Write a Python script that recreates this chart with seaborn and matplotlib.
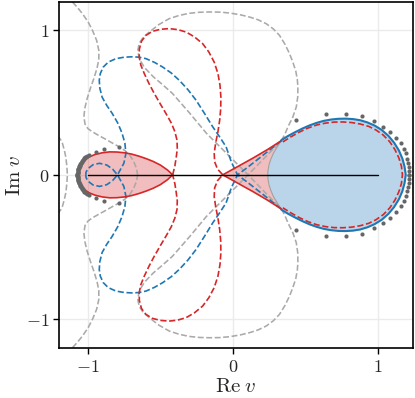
import matplotlib
matplotlib.use("Agg")
import matplotlib.pyplot as plt
import seaborn as sns

# All curves are symmetric about the real axis: only the upper halves (Im v >= 0) are listed.

# red solid teardrop on the left, from the cusp to the far left
red_left_x = [-0.415, -0.45, -0.50, -0.55, -0.60, -0.65, -0.70, -0.75, -0.80, -0.85, -0.90, -0.95,
              -0.99, -1.02, -1.045, -1.06, -1.068]
red_left_y = [0.0, 0.033, 0.068, 0.093, 0.113, 0.130, 0.144, 0.153, 0.158, 0.159, 0.153, 0.141,
              0.125, 0.105, 0.075, 0.040, 0.0]

# red solid edge from the right cusp to the junction with the blue lobe
red_right_x = [-0.069, 0.030, 0.138, 0.240, 0.335]
red_right_y = [0.0, 0.055, 0.115, 0.175, 0.236]

# thin grey edge between the pink and the blue region
inner_x = [0.335, 0.305, 0.280, 0.262, 0.250, 0.244, 0.242]
inner_y = [0.236, 0.190, 0.148, 0.105, 0.067, 0.032, 0.0]

# blue solid lobe on the right
blue_lobe_x = [0.335, 0.38, 0.43, 0.48, 0.53, 0.58, 0.63, 0.68, 0.73, 0.78, 0.83, 0.88, 0.93, 0.98,
               1.03, 1.075, 1.115, 1.148, 1.172, 1.187, 1.195]
blue_lobe_y = [0.240, 0.268, 0.295, 0.320, 0.342, 0.360, 0.374, 0.383, 0.388, 0.389, 0.386, 0.378,
               0.363, 0.341, 0.310, 0.270, 0.222, 0.168, 0.112, 0.056, 0.0]

# red dashed curve just inside the blue lobe
red_in_x = [0.346, 0.40, 0.46, 0.52, 0.58, 0.64, 0.70, 0.76, 0.82, 0.88, 0.94, 0.99, 1.04, 1.085,
            1.12, 1.147, 1.165, 1.172]
red_in_y = [0.228, 0.262, 0.296, 0.324, 0.345, 0.358, 0.365, 0.366, 0.362, 0.352, 0.335, 0.310,
            0.275, 0.228, 0.175, 0.118, 0.060, 0.0]

# red dashed figure-eight between the two cusps
red_dash_x = [-0.415, -0.400, -0.390, -0.383, -0.385, -0.400, -0.425, -0.461, -0.500, -0.542, -0.580,
              -0.611, -0.635, -0.646, -0.645, -0.630, -0.600, -0.555, -0.500, -0.440, -0.380, -0.322,
              -0.265, -0.208, -0.165, -0.128, -0.102, -0.088, -0.082, -0.083, -0.090, -0.102, -0.118,
              -0.128, -0.125, -0.105, -0.069]
red_dash_y = [0.0, 0.060, 0.124, 0.180, 0.240, 0.300, 0.360, 0.424, 0.490, 0.563, 0.635,
              0.701, 0.760, 0.815, 0.870, 0.925, 0.965, 0.993, 1.007, 1.012, 1.005, 0.988,
              0.955, 0.908, 0.850, 0.780, 0.700, 0.620, 0.540, 0.460, 0.380, 0.300, 0.220,
              0.150, 0.090, 0.040, 0.0]

# blue dashed branch: lower junction -> crossing -> top -> loop round -1
blue_dash_x = [0.335, 0.25, 0.17, 0.10, 0.033, -0.010, -0.046, -0.090, -0.138, -0.195, -0.253, -0.310,
               -0.369, -0.425, -0.484, -0.540, -0.599, -0.645, -0.694, -0.750, -0.807, -0.860, -0.895,
               -0.915, -0.922, -0.918, -0.902, -0.870, -0.833, -0.795, -0.765, -0.745, -0.738, -0.752,
               -0.796, -0.830, -0.870, -0.920, -0.965, -0.998, -1.013, -1.015]
blue_dash_y = [-0.236, -0.168, -0.105, -0.050, 0.0, 0.090, 0.194, 0.262, 0.332, 0.425, 0.516, 0.590,
               0.654, 0.705, 0.746, 0.778, 0.804, 0.814, 0.817, 0.814, 0.804, 0.780, 0.745,
               0.700, 0.654, 0.600, 0.537, 0.480, 0.426, 0.360, 0.290, 0.220, 0.148, 0.080,
               0.0, -0.040, -0.068, -0.080, -0.070, -0.045, -0.020, 0.0]

# grey dashed: outer arc over the top, then the diagonal down to the lower junction
grey_outer_x = [0.335, 0.360, 0.381, 0.415, 0.439, 0.449, 0.450, 0.446, 0.435, 0.415, 0.392, 0.360,
                0.323, 0.280, 0.231, 0.175, 0.116, 0.050, -0.023, -0.090, -0.161, -0.230, -0.300,
                -0.370, -0.438, -0.510, -0.576, -0.620, -0.646, -0.655, -0.650, -0.635, -0.611,
                -0.550, -0.480, -0.417, -0.300, -0.182, -0.044, 0.106, 0.220, 0.335]
grey_outer_y = [0.236, 0.280, 0.332, 0.400, 0.470, 0.540, 0.608, 0.660, 0.720, 0.780, 0.839, 0.905,
                0.965, 1.010, 1.046, 1.073, 1.092, 1.108, 1.120, 1.126, 1.127, 1.125, 1.118,
                1.103, 1.081, 1.040, 0.988, 0.950, 0.910, 0.865, 0.827, 0.785, 0.744,
                0.680, 0.620, 0.564, 0.430, 0.288, 0.150, 0.0, -0.118, -0.236]

# grey dashed on the left, from the top edge down to the real axis
grey_left_x = [-1.107, -1.070, -1.038, -1.000, -0.969, -0.940, -0.925, -0.925, -0.937, -0.958, -0.980,
               -1.005, -1.022, -1.028, -1.020, -1.000, -0.970, -0.930, -0.888, -0.835, -0.784, -0.745,
               -0.710, -0.683, -0.665, -0.657]
grey_left_y = [1.196, 1.155, 1.115, 1.060, 1.000, 0.930, 0.862, 0.800, 0.740, 0.670, 0.608,
               0.530, 0.460, 0.400, 0.350, 0.320, 0.298, 0.275, 0.252, 0.222, 0.194, 0.168,
               0.135, 0.090, 0.045, 0.0]

# small grey dashed arc at the left edge
grey_edge_x = [-1.21, -1.190, -1.176, -1.163, -1.153, -1.146, -1.142]
grey_edge_y = [0.270, 0.245, 0.217, 0.170, 0.124, 0.062, 0.0]

# grey dots near -1 (packed into a thick arc) and around the right lobe
dots_left_x = [-0.784, -0.888, -0.943, -0.992, -1.004, -1.015, -1.020, -1.025, -1.029, -1.033, -1.037,
               -1.040, -1.044, -1.047, -1.050, -1.052, -1.055, -1.057, -1.060, -1.062, -1.064, -1.066,
               -1.068, -1.069, -1.070, -1.071, -1.072, -1.072, -1.073, -1.073]
dots_left_y = [0.193, 0.178, 0.157, 0.140, 0.133, 0.126, 0.121, 0.116, 0.110, 0.105, 0.100,
               0.095, 0.090, 0.084, 0.079, 0.074, 0.069, 0.064, 0.058, 0.053, 0.048, 0.043,
               0.038, 0.032, 0.027, 0.022, 0.016, 0.011, 0.005, 0.0]
dots_right_x = [0.439, 0.642, 0.785, 0.893, 0.974, 1.038, 1.089, 1.131, 1.161, 1.181, 1.195,
                1.204, 1.211, 1.216, 1.218, 1.218]
dots_right_y = [0.383, 0.424, 0.424, 0.406, 0.371, 0.332, 0.297, 0.258, 0.217, 0.182, 0.148,
                0.113, 0.083, 0.055, 0.028, 0.0]

segment_x = [-1.0, 1.0]
segment_y = [0.0, 0.0]

ticks = [-1, 0, 1]
tick_labels = ["$-1$", "$0$", "$1$"]

RED = "#d62728"
BLUE = "#1f77b4"
GREY = "#aaaaaa"
DOT = "#666666"


def closed(xs, ys):
    # upper half followed by its mirror image, walked backwards
    return list(xs) + list(xs)[::-1], list(ys) + [-y for y in ys][::-1]


def mirror(xs, ys):
    return list(xs), [-y for y in ys]


sns.set_style("whitegrid", {"grid.color": "#ebebeb", "axes.edgecolor": "black"})
plt.rcParams["mathtext.fontset"] = "cm"
plt.rcParams["font.family"] = ["DejaVu Serif"]

fig = plt.figure(figsize=(4.15, 3.98), dpi=100)
ax = fig.add_axes([59 / 415, 50 / 398, 354 / 415, 346 / 398])

# filled regions
lx, ly = closed(red_left_x, red_left_y)
ax.fill(lx, ly, color=RED, alpha=0.3, lw=0, zorder=1)
px, py = closed(red_right_x + inner_x, red_right_y + inner_y)
ax.fill(px, py, color=RED, alpha=0.3, lw=0, zorder=1)
bx, by = closed(inner_x[::-1] + blue_lobe_x, inner_y[::-1] + blue_lobe_y)
ax.fill(bx, by, color="#bad5e9", lw=0, zorder=1.5)


def curve(x, y, color, ls="-", lw=1.2, z=3):
    sns.lineplot(x=x, y=y, sort=False, estimator=None, color=color,
                 linestyle=ls, lw=lw, zorder=z, ax=ax)


# grey dashed level curves
for gx, gy in [(grey_outer_x, grey_outer_y), (grey_left_x, grey_left_y), (grey_edge_x, grey_edge_y)]:
    curve(gx, gy, GREY, "--", 1.15, 2)
    curve(*mirror(gx, gy), GREY, "--", 1.15, 2)
curve(*closed(inner_x, inner_y), "#a0a0a0", "-", 0.8, 2)

# blue and red dashed
curve(blue_dash_x, blue_dash_y, BLUE, "--", 1.2, 3)
curve(*mirror(blue_dash_x, blue_dash_y), BLUE, "--", 1.2, 3)
curve(*closed(red_dash_x, red_dash_y), RED, "--", 1.2, 3)
curve(*closed(red_in_x, red_in_y), RED, "--", 1.2, 3)

# solid boundaries
curve(*closed(red_left_x, red_left_y), RED, "-", 1.2, 4)
curve(red_right_x, red_right_y, RED, "-", 1.2, 4)
curve(*mirror(red_right_x, red_right_y), RED, "-", 1.2, 4)
curve(*closed(blue_lobe_x, blue_lobe_y), BLUE, "-", 1.5, 4)

curve(segment_x, segment_y, "black", "-", 1.0, 5)

# dots
for dx, dy in [(dots_left_x, dots_left_y), (dots_right_x, dots_right_y)]:
    sx, sy = closed(dx, dy)
    sns.scatterplot(x=sx, y=sy, color=DOT, s=9, linewidth=0, zorder=6, ax=ax)

ax.set_xlim(-1.2, 1.245)
ax.set_ylim(-1.198, 1.196)
ax.set_xticks(ticks)
ax.set_xticklabels(tick_labels)
ax.set_yticks(ticks)
ax.set_yticklabels(tick_labels)
ax.tick_params(axis="both", which="major", length=4, width=1, color="black",
               labelsize=13, left=True, bottom=True, pad=3)
for sp in ax.spines.values():
    sp.set_linewidth(1.2)
    sp.set_color("black")
ax.grid(True, color="#ebebeb", lw=1)
ax.set_xlabel(r"$\mathrm{Re}\;v$", fontsize=15, labelpad=1)
ax.set_ylabel(r"$\mathrm{Im}\;v$", fontsize=15, labelpad=1)

fig.savefig("out.png", dpi=100)
